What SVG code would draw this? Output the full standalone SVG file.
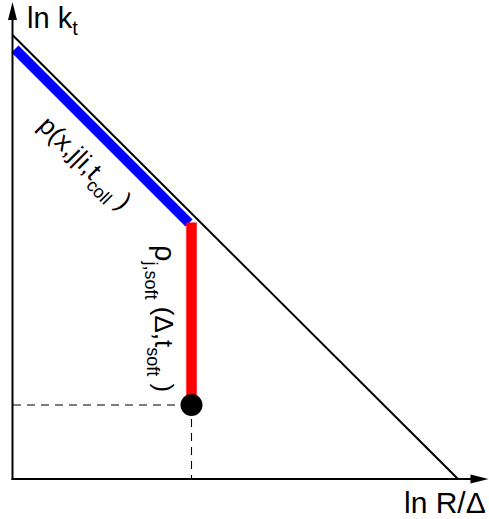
<svg xmlns="http://www.w3.org/2000/svg" width="489" height="519" viewBox="0 0 489 519">
<style>
text{font-family:"Liberation Sans",Arial,sans-serif;fill:#000}
.ax{stroke:#000;stroke-width:2;fill:none}
.dash{stroke:#000;stroke-width:1.1;stroke-dasharray:8,6;fill:none}
</style>
<rect width="489" height="519" fill="#fff"/>
<g id="connectors">
<line class="dash" x1="13" y1="405" x2="191.5" y2="405"/>
<line class="dash" x1="191.5" y1="405" x2="191.5" y2="479"/>
<line x1="12.5" y1="35" x2="458" y2="479" stroke="#000" stroke-width="2"/>
<line x1="15" y1="49" x2="189" y2="223" stroke="#0000ff" stroke-width="10"/>
<line x1="191.5" y1="222.5" x2="191.5" y2="405" stroke="#ff0000" stroke-width="10.5"/>
<line class="ax" x1="12.5" y1="480" x2="12.5" y2="18"/>
<line class="ax" x1="11.5" y1="479" x2="473" y2="479"/>
<polygon points="12.5,2 17,20 8,20" fill="#000"/>
<polygon points="488.5,479 470.5,474.5 470.5,483.5" fill="#000"/>
</g>
<g id="point"><circle cx="191.5" cy="405" r="11" fill="#000"/></g>
<g id="label-y"><text x="27" y="28" font-size="29">ln k<tspan font-size="20" dy="7">t</tspan></text></g>
<g id="label-x"><text x="404" y="513" font-size="30">ln R/Δ</text></g>
<g id="label-coll"><text transform="translate(37,127) rotate(45)" font-size="26">p(x,j|i,t<tspan font-size="18" dy="8">coll</tspan><tspan dy="-8"> )</tspan></text></g>
<g id="label-soft"><text transform="translate(155,245) rotate(90)" font-size="26"><tspan font-size="29">ρ</tspan><tspan font-size="18" dy="10">j,soft</tspan><tspan dy="-10"> (Δ,t</tspan><tspan font-size="18" dy="8">soft</tspan><tspan dy="-8"> )</tspan></text></g>
</svg>
